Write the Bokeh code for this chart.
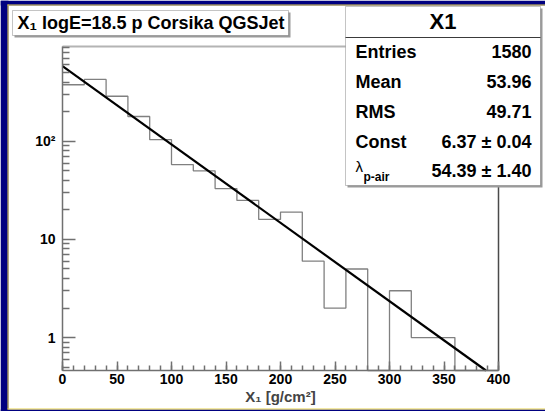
import math
import numpy as np
from bokeh.plotting import figure
from bokeh.models import BoxAnnotation, Label, Range1d, FixedTicker, SingleIntervalTicker
from bokeh.embed import file_html
from bokeh.resources import INLINE

# ---------------- data ----------------
bin_edges = [0, 20, 40, 60, 80, 100, 120, 140, 160, 180, 200,
             220, 240, 260, 280, 300, 320, 340, 360, 380, 400]
counts = [377, 427, 288, 179, 104, 58, 50, 33, 25, 16,
          19, 6, 2, 5, 0, 3, 1, 1, 0, 0]
fit_const = 6.37
fit_lambda = 54.39

title_text = "X\u2081 logE=18.5 p Corsika QGSJet"
stats_title = "X1"
stats_labels = ["Entries", "Mean", "RMS", "Const", "\u03bb"]
stats_label_sub = "p-air"
stats_values = ["1580", "53.96", "49.71", "6.37 \u00b1 0.04", "54.39 \u00b1 1.40"]

y_ticks = [1, 10, 100]
y_tick_labels = ["1", "10", "10\u00b2"]
y_minor_ticks = [0.5, 0.6, 0.7, 0.8, 0.9,
                 2, 3, 4, 5, 6, 7, 8, 9,
                 20, 30, 40, 50, 60, 70, 80, 90,
                 200, 300, 400, 500, 600, 700, 800, 900]
x_label = "X\u2081 [g/cm\u00b2]"

x_lo, x_hi = 0, 400
y_lo, y_hi = 0.462, 925

# ---------------- layout (pixels) ----------------
W, H = 545, 411
FL, FR, FT, FB = 62, 498, 46, 370   # axes box inside the canvas

xs = (x_hi - x_lo) / (FR - FL)
x_start = x_lo - FL * xs
x_end = x_hi + (W - FR) * xs
ld = (math.log10(y_hi) - math.log10(y_lo)) / (FB - FT)
y_end = 10 ** (math.log10(y_hi) + FT * ld)
y_start = 10 ** (math.log10(y_lo) - (H - FB) * ld)

FONT = "Liberation Sans"
NAVY = "#000080"
YELLOW = "#e8d44d"
AXC = "#707070"

p = figure(width=W, height=H, output_backend="svg", toolbar_location=None,
           y_axis_type="log", x_range=Range1d(x_start, x_end), y_range=Range1d(y_start, y_end),
           min_border_left=0, min_border_right=0, min_border_top=0, min_border_bottom=0,
           border_fill_color="white", background_fill_color="white")
p.outline_line_color = None
p.xgrid.visible = False
p.ygrid.visible = False

# frame top and right edges
p.segment(x0=[x_lo], y0=[y_hi], x1=[x_hi], y1=[y_hi], line_color="#b4b4b4", line_width=2)
p.segment(x0=[x_hi], y0=[y_lo], x1=[x_hi], y1=[y_hi], line_color="#4a4a4a", line_width=1.5)

# histogram outline
step_y = [c if c > 0 else y_lo for c in counts] + [counts[-1] if counts[-1] > 0 else y_lo]
p.step(x=bin_edges, y=step_y, mode="after", line_color="#808080", line_width=1.3)

# exponential fit, drawn from x_lo to where it leaves the axes box
fit_end = min(x_hi, fit_lambda * (fit_const - math.log(y_lo)))
fx = np.array([x_lo, fit_end], dtype=float)
p.line(x=fx, y=np.exp(fit_const - fx / fit_lambda), line_color="black", line_width=2.2)

# axes
for ax in (p.xaxis[0], p.yaxis[0]):
    ax.axis_line_color = AXC
    ax.axis_line_width = 1.5
    ax.major_tick_line_color = AXC
    ax.minor_tick_line_color = AXC
    ax.major_tick_line_width = 1.5
    ax.minor_tick_line_width = 1.5
    ax.major_tick_out = 0
    ax.minor_tick_out = 0
    ax.major_label_text_font = FONT
    ax.major_label_text_font_style = "bold"
    ax.major_label_text_font_size = "14px"
    ax.major_label_text_color = "black"

p.xaxis.fixed_location = y_lo
p.xaxis.bounds = (x_lo, x_hi)
p.xaxis.ticker = SingleIntervalTicker(interval=50, num_minor_ticks=5)
p.xaxis.major_tick_in = 9
p.xaxis.minor_tick_in = 5
p.xaxis.major_label_standoff = 3
p.xaxis.axis_label = x_label
p.xaxis.axis_label_text_font = FONT
p.xaxis.axis_label_text_font_style = "bold"
p.xaxis.axis_label_text_font_size = "15px"
p.xaxis.axis_label_standoff = 1

p.yaxis.fixed_location = x_lo
p.yaxis.bounds = (y_lo, y_hi)
p.yaxis.ticker = FixedTicker(ticks=y_ticks, minor_ticks=y_minor_ticks)
p.yaxis.major_label_overrides = {t: s for t, s in zip(y_ticks, y_tick_labels)}
p.yaxis.major_tick_in = 13
p.yaxis.minor_tick_in = 7
p.yaxis.major_label_standoff = 7


def box(l, t, r, b, fill=None, line=None, lw=1):
    return BoxAnnotation(left=l, right=r, top=t, bottom=b,
                         left_units="canvas", right_units="canvas",
                         top_units="canvas", bottom_units="canvas",
                         fill_color=fill, fill_alpha=1.0,
                         line_color=line, line_width=lw, level="annotation")


def label(x, y, text, size, align="left", style="bold", color="black"):
    return Label(x=x, y=y, x_units="canvas", y_units="canvas", text=text,
                 text_font=FONT, text_font_style=style, text_font_size=size,
                 text_align=align, text_baseline="middle", text_color=color)


# outer navy frame with yellow edge
p.add_layout(box(0, 0, 8, H, fill=NAVY))
p.add_layout(box(0, 0, W, 5, fill=NAVY))
p.add_layout(box(0, 409, W, H, fill=NAVY))
p.add_layout(box(7, 4, 8, 409, fill=YELLOW))
p.add_layout(box(7, 4, W, 5, fill=YELLOW))
p.add_layout(box(7, 408, W, 409, fill=YELLOW))

# title pave
p.add_layout(box(14, 12, 290, 37, fill="#9a9a9a"))
p.add_layout(box(12, 10, 288, 35, fill="white", line="#3a3a3a", lw=1))
p.add_layout(label(17, 22.5, title_text, "18px"))

# stats pave
p.add_layout(box(347, 8, 542, 187, fill="#9a9a9a"))
p.add_layout(box(345, 6, 540, 185, fill="white", line="#3a3a3a", lw=1))
p.add_layout(box(345, 36.5, 540, 37.5, fill="#3a3a3a"))
p.add_layout(label(442.5, 21, stats_title, "22px", align="center"))
row_y = [51, 81, 111, 141]
for yy, name, val in zip(row_y, stats_labels[:4], stats_values[:4]):
    p.add_layout(label(355, yy, name, "18px"))
    p.add_layout(label(531, yy, val, "18px", align="right"))
p.add_layout(label(355, 166, stats_labels[4], "15px", style="normal"))
p.add_layout(label(363, 176, stats_label_sub, "12px"))
p.add_layout(label(531, 170, stats_values[4], "18px", align="right"))

open("out.html", "w").write(file_html(p, INLINE))
